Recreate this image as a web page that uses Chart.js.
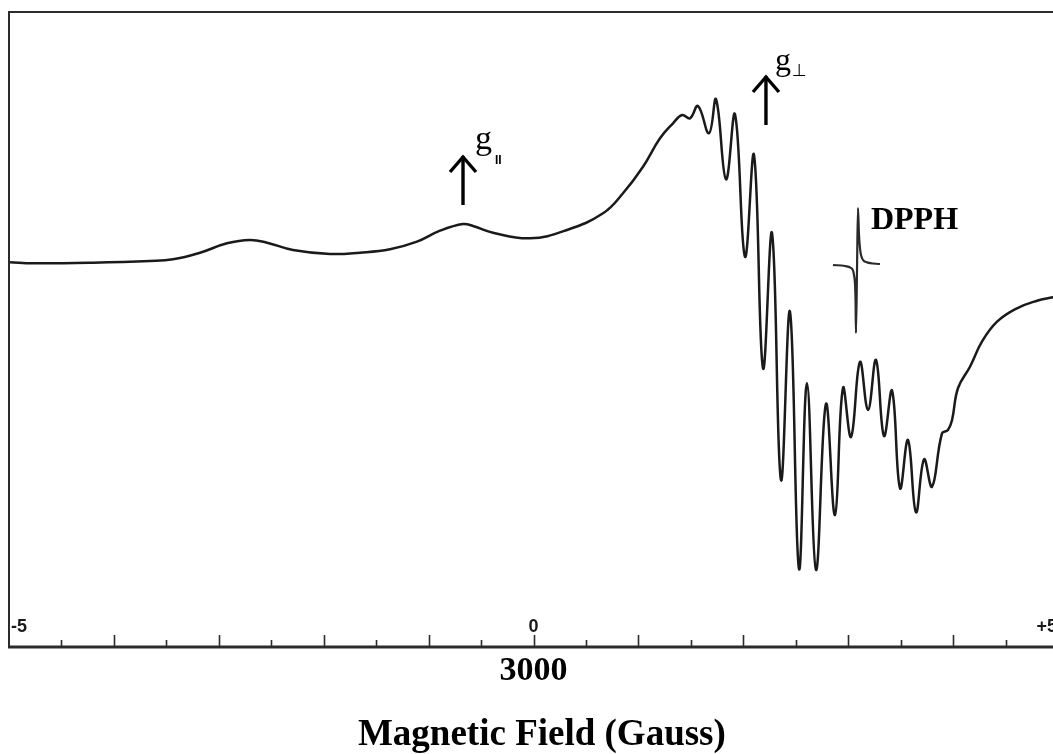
<!DOCTYPE html>
<html>
<head>
<meta charset="utf-8">
<title>EPR spectrum</title>
<script src="https://cdn.jsdelivr.net/npm/chart.js@4.4.1/dist/chart.umd.min.js"></script>
<style>
  html, body { margin: 0; padding: 0; background: #fff; overflow: hidden; }
  #wrap { width: 1070px; height: 754px; }
</style>
</head>
<body>
<div id="wrap"><canvas id="epr" width="1070" height="754"></canvas></div>
<script>
// ===== DATOS =====
// campo en unidades de la escala (-5 .. +5), intensidad en unidades arbitrarias
const fieldValues = [
  -4.99, -4.77, -4.20, -3.656, -3.437, -3.179, -2.922, -2.703, -2.540, -2.293,
  -1.940, -1.654, -1.368, -1.111, -0.891, -0.672, -0.577, -0.386, -0.033, 0.319,
  0.663, 0.853, 1.044, 1.206, 1.330, 1.416, 1.492, 1.568, 1.673, 1.740,
  1.835, 1.921, 2.016, 2.102, 2.188, 2.274, 2.359, 2.445, 2.531, 2.607,
  2.693, 2.788, 2.874, 2.950, 3.027, 3.112, 3.189, 3.265, 3.341, 3.418,
  3.494, 3.570, 3.646, 3.723, 3.799, 3.894, 3.951, 3.990, 4.047, 4.161,
  4.275, 4.419, 4.609, 4.800, 4.952, 5.0
];
const intensityValues = [
  0.07, -0.03, 0.03, 0.2, 0.37, 1.03, 1.97, 2.3, 2.03, 1.3,
  0.9, 1.03, 1.37, 2.13, 3.23, 3.9, 3.7, 3.03, 2.47, 3.3,
  4.97, 6.97, 9.63, 12.47, 13.97, 14.8, 14.47, 15.7, 12.97, 16.37,
  8.37, 14.87, 0.63, 10.8, -10.53, 2.97, -21.7, -4.87, -30.6, -12.03,
  -30.7, -14.1, -25.2, -12.5, -17.4, -9.9, -14.7, -9.7, -17.3, -12.77,
  -22.53, -17.7, -24.93, -19.63, -22.37, -17.03, -16.7, -15.7, -12.5, -10.37,
  -7.87, -5.87, -4.53, -3.77, -3.43, -3.3
];

// señal de referencia DPPH
const dpphField = [2.855, 2.970, 3.027, 3.055, 3.070, 3.074, 3.084, 3.093, 3.103, 3.122, 3.170, 3.303];
const dpphIntensity = [-0.2, -0.3, -0.5, -1.2, -3.7, -7.0, -0.7, 5.5, 2.8, 0.8, 0.1, -0.1];

// eje: marcas cada media unidad, etiquetas sólo en -5, 0, +5
const tickValues = [-5, -4.5, -4, -3.5, -3, -2.5, -2, -1.5, -1, -0.5, 0, 0.5, 1, 1.5, 2, 2.5, 3, 3.5, 4, 4.5, 5];
const tickLabelValues = [-5, 0, 5];
const tickLabelTexts = ['-5', '0', '+5'];

// flechas g (posición en campo, intensidad base y punta)
const arrowNames = ['par', 'perp'];
const arrowField = [-0.672, 2.216];
const arrowBase = [5.8, 13.8];
const arrowTip = [10.8, 18.8];

const centerFieldLabel = '3000';
const axisTitle = 'Magnetic Field (Gauss)';

// ===== HELPERS =====
function toPoints(xs, ys) {
  return xs.map(function(x, i) { return { x: x, y: ys[i] }; });
}

function drawArrow(ctx, x, yBase, yTip) {
  ctx.save();
  ctx.strokeStyle = '#000';
  ctx.lineWidth = 3.4;
  ctx.lineCap = 'butt';
  ctx.beginPath();
  ctx.moveTo(x, yBase);
  ctx.lineTo(x, yTip + 1);
  ctx.stroke();
  ctx.beginPath();
  ctx.moveTo(x - 13, yTip + 17);
  ctx.lineTo(x, yTip + 2);
  ctx.lineTo(x + 13, yTip + 17);
  ctx.stroke();
  ctx.restore();
}

// ===== PLUGIN: MARCO, EJE Y ANOTACIONES =====
const eprDecor = {
  id: 'eprDecor',
  afterDraw: function(chart) {
    const ctx = chart.ctx;
    const area = chart.chartArea;
    const xs = chart.scales.x;
    const ys = chart.scales.y;

    // marco
    ctx.save();
    ctx.strokeStyle = '#2b2b2b';
    ctx.lineWidth = 2;
    ctx.beginPath();
    ctx.moveTo(area.right, area.top);
    ctx.lineTo(area.left, area.top);
    ctx.lineTo(area.left, area.bottom);
    ctx.stroke();
    ctx.lineWidth = 3;
    ctx.beginPath();
    ctx.moveTo(area.left - 1, area.bottom);
    ctx.lineTo(area.right, area.bottom);
    ctx.stroke();

    // marcas del eje (hacia dentro)
    ctx.lineWidth = 1.6;
    tickValues.forEach(function(v) {
      if (v === -5 || v === 5) return;
      const px = Math.round(xs.getPixelForValue(v)) + 0.5;
      const len = Number.isInteger(v) ? 12 : 7;
      ctx.beginPath();
      ctx.moveTo(px, area.bottom);
      ctx.lineTo(px, area.bottom - len);
      ctx.stroke();
    });

    ctx.fillStyle = '#1a1a1a';
    ctx.font = 'bold 18px "Liberation Sans Narrow", "Liberation Sans", sans-serif';
    ctx.textBaseline = 'alphabetic';
    tickLabelValues.forEach(function(v, i) {
      const px = xs.getPixelForValue(v);
      if (v === -5) { ctx.textAlign = 'left'; ctx.fillText(tickLabelTexts[i], px + 2, area.bottom - 15); }
      else if (v === 5) { ctx.textAlign = 'right'; ctx.fillText(tickLabelTexts[i], px - 1, area.bottom - 15); }
      else { ctx.textAlign = 'center'; ctx.fillText(tickLabelTexts[i], px, area.bottom - 15); }
    });

    // flechas g
    arrowNames.forEach(function(name, i) {
      const px = xs.getPixelForValue(arrowField[i]);
      drawArrow(ctx, px, ys.getPixelForValue(arrowBase[i]), ys.getPixelForValue(arrowTip[i]));
    });

    ctx.fillStyle = '#000';
    ctx.textAlign = 'left';
    // g paralelo
    let ax = xs.getPixelForValue(arrowField[0]);
    let ay = ys.getPixelForValue(arrowTip[0]);
    ctx.font = '34px "Liberation Serif", "Times New Roman", serif';
    ctx.fillText('g', ax + 12, ay - 6);
    ctx.font = 'bold 12px "Liberation Sans", sans-serif';
    ctx.fillText('II', ax + 32, ay + 9);
    // g perpendicular
    ax = xs.getPixelForValue(arrowField[1]);
    ay = ys.getPixelForValue(arrowTip[1]);
    ctx.font = '32px "Liberation Serif", "Times New Roman", serif';
    ctx.fillText('g', ax + 9, ay - 5);
    ctx.font = '17px "DejaVu Sans", sans-serif';
    ctx.fillText('\u22A5', ax + 26, ay + 1);

    // DPPH
    ctx.font = 'bold 32px "Liberation Serif", "Times New Roman", serif';
    ctx.fillText('DPPH', xs.getPixelForValue(3.217), ys.getPixelForValue(3.4));

    // textos inferiores
    ctx.textAlign = 'center';
    ctx.font = 'bold 34px "Liberation Serif", "Times New Roman", serif';
    ctx.fillText(centerFieldLabel, xs.getPixelForValue(0), area.bottom + 33);
    ctx.font = 'bold 37px "Liberation Serif", "Times New Roman", serif';
    ctx.fillText(axisTitle, xs.getPixelForValue(0.08), area.bottom + 98);
    ctx.restore();
  }
};

// ===== GRÁFICO =====
new Chart(document.getElementById('epr'), {
  type: 'line',
  data: {
    datasets: [
      {
        label: 'Spectrum',
        data: toPoints(fieldValues, intensityValues),
        borderColor: '#1a1a1a',
        borderWidth: 2.5,
        pointRadius: 0,
        tension: 0.42,
        fill: false,
      },
      {
        label: 'DPPH',
        data: toPoints(dpphField, dpphIntensity),
        borderColor: '#2a2a2a',
        borderWidth: 2.2,
        pointRadius: 0,
        cubicInterpolationMode: 'monotone',
        fill: false,
      },
    ],
  },
  options: {
    responsive: false,
    animation: false,
    devicePixelRatio: 1,
    layout: { padding: { left: 9, top: 12, right: 12, bottom: 107 } },
    plugins: { legend: { display: false }, tooltip: { enabled: false }, title: { display: false } },
    scales: {
      x: { type: 'linear', min: -5, max: 5, display: false },
      y: { type: 'linear', min: -38.4, max: 25.1, display: false },
    },
  },
  plugins: [eprDecor],
});
</script>
</body>
</html>
